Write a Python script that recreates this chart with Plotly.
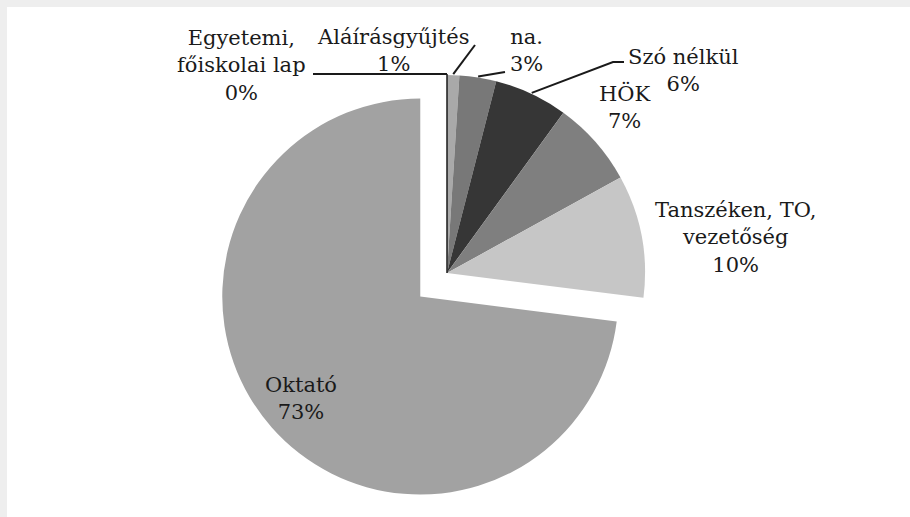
import math
import plotly.graph_objects as go

# Response categories (clockwise from 12 o'clock) and their shares in percent
labels = [
    "Egyetemi,<br>főiskolai lap",
    "Aláírásgyűjtés",
    "na.",
    "Szó nélkül",
    "HÖK",
    "Tanszéken, TO,<br>vezetőség",
    "Oktató",
]
values = [0, 1, 3, 6, 7, 10, 73]
colors = ["#3a3a3a", "#a9a9a9", "#787878", "#363636", "#7f7f7f", "#c6c6c6", "#a2a2a2"]
pulls = [0, 0, 0, 0, 0, 0, 0.18]

# Canvas and pie geometry in pixels
W, H = 910, 517
CX, CY, R = 447, 273, 198
FONT = dict(family="DejaVu Serif", size=21, color="#1a1a1a")

# Label block centres (pixels) and leader-line elbows for the small slices
label_pos = [(241, 65), (393, 51), (526, 51), (683, 70), (625, 107), (735, 237), (301, 398)]
leaders = {
    0: [(313, 74)],
    1: [(475, 45)],
    2: [(505, 72)],
    3: [(613, 62), (624, 62)],
}


def px(x):
    return x / W


def py(y):
    return 1 - y / H


# Plotly sizes the pie so that radius*(1+max pull) fits half the domain box
half = R * (1 + max(pulls))
domain_x = [px(CX - half), px(CX + half)]
domain_y = [py(CY + half), py(CY - half)]

fig = go.Figure(
    go.Pie(
        labels=[l.replace("<br>", " ") for l in labels],
        values=values,
        sort=False,
        direction="clockwise",
        rotation=0,
        pull=pulls,
        marker=dict(colors=colors, line=dict(width=0)),
        textinfo="none",
        domain=dict(x=domain_x, y=domain_y),
        showlegend=False,
    )
)

total = sum(values)


def slice_point(i, rad):
    start = sum(values[:i]) / total
    mid = start + values[i] / total / 2
    a = 2 * math.pi * mid
    return CX + rad * math.sin(a), CY - rad * math.cos(a)


shapes = []
# soft frame along the top and left edges
shapes.append(dict(type="rect", xref="paper", yref="paper", x0=0, x1=1, y0=py(7), y1=1,
                   fillcolor="#eeeeee", line=dict(width=0), layer="below"))
shapes.append(dict(type="rect", xref="paper", yref="paper", x0=0, x1=px(7), y0=0, y1=1,
                   fillcolor="#eeeeee", line=dict(width=0), layer="below"))

# the zero-width slice shows as a radius from the centre to 12 o'clock
zx, zy = slice_point(0, R + 1)
shapes.append(dict(type="line", xref="paper", yref="paper", x0=px(CX), y0=py(CY),
                   x1=px(zx), y1=py(zy), line=dict(color="#1a1a1a", width=1.5)))

for i, pts in leaders.items():
    sx, sy = slice_point(i, R + 1)
    path = [(sx, sy)] + pts
    d = "M " + " L ".join(f"{px(x)},{py(y)}" for x, y in path)
    shapes.append(dict(type="path", xref="paper", yref="paper", path=d,
                       line=dict(color="#1a1a1a", width=2)))

annotations = []
for lab, val, (x, y) in zip(labels, values, label_pos):
    annotations.append(dict(
        text=f"{lab}<br>{val}%",
        x=px(x), y=py(y), xref="paper", yref="paper",
        xanchor="center", yanchor="middle", align="center",
        showarrow=False, font=FONT,
    ))

fig.update_layout(
    width=W, height=H,
    margin=dict(l=0, r=0, t=0, b=0),
    paper_bgcolor="white",
    plot_bgcolor="white",
    font=FONT,
    shapes=shapes,
    annotations=annotations,
)

fig.write_html("out.html")
